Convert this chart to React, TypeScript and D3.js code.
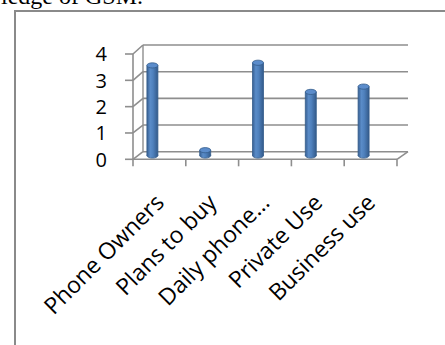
import React from "react";
import * as d3 from "d3";

const categories = ["Phone Owners", "Plans to buy", "Daily phone…", "Private Use", "Business use"];
const values = [3.4, 0.2, 3.5, 2.4, 2.6];
const yTicks = [0, 1, 2, 3, 4];

const W = 445;
const H = 345;

export default function App() {
  // front plane of the 3D plot
  const x = d3.scaleBand<string>().domain(categories).range([133, 397]).padding(0);
  const yFront = d3.scaleLinear().domain([0, 4]).range([159.3, 54]);
  const yBack = d3.scaleLinear().domain([0, 4]).range([151.7, 45]);
  const yMid = d3.scaleLinear().domain([0, 4]).range([155.5, 49.5]);
  const dx = 10;
  const backRight = 408;
  const gridColor = "#8e8e8e";
  const barW = 11;
  const ry = 2.6;
  const barOffset = -7;

  return (
    <svg width={W} height={H} style={{ position: "absolute", left: 0, top: 0, background: "#fff" }}>
      <defs>
        <linearGradient id="cyl" x1="0" x2="1" y1="0" y2="0">
          <stop offset="0" stopColor="#375f92" />
          <stop offset="0.3" stopColor="#5a8cc8" />
          <stop offset="0.55" stopColor="#4f81bd" />
          <stop offset="1" stopColor="#335a8a" />
        </linearGradient>
      </defs>

      {/* page text cut off above */}
      <text x={143} y={4} textAnchor="end" fontFamily="'Liberation Serif', 'Times New Roman', serif" fontSize={24} fill="#000">
        knowledge of GSM.
      </text>

      {/* frame */}
      <line x1={15} x2={15} y1={10} y2={H} stroke="#8a8a8a" strokeWidth={2} />
      <line x1={14} x2={W} y1={11} y2={11} stroke="#8a8a8a" strokeWidth={2} />

      {/* back wall gridlines and side wall diagonals */}
      {yTicks.map((t) => (
        <g key={"g" + t}>
          <line x1={133 + dx} x2={backRight} y1={yBack(t)} y2={yBack(t)} stroke={gridColor} strokeWidth={1.6} />
          <line x1={133} x2={133 + dx} y1={yFront(t)} y2={yBack(t)} stroke={gridColor} strokeWidth={1.6} />
          <line x1={125} x2={133} y1={yFront(t)} y2={yFront(t)} stroke={gridColor} strokeWidth={1.6} />
          <text
            x={107}
            y={yFront(t)}
            dy="0.36em"
            textAnchor="end"
            fontFamily="'Open Sans', sans-serif"
            fontSize={20}
            fill="#000"
          >
            {t}
          </text>
        </g>
      ))}
      {/* back-left vertical edge */}
      <line x1={133 + dx} x2={133 + dx} y1={yBack(4)} y2={yBack(0)} stroke={gridColor} strokeWidth={1.4} />
      {/* front vertical axis */}
      <line x1={133} x2={133} y1={yFront(4)} y2={yFront(0)} stroke={gridColor} strokeWidth={1.6} />
      {/* floor front edge and right edge */}
      <line x1={133} x2={397} y1={yFront(0)} y2={yFront(0)} stroke={gridColor} strokeWidth={1.6} />
      <line x1={397} x2={backRight} y1={yFront(0)} y2={yBack(0)} stroke={gridColor} strokeWidth={1.6} />
      {/* x ticks */}
      {categories.map((c, i) => (
        <line key={"t" + i} x1={x(c)!} x2={x(c)!} y1={yFront(0)} y2={yFront(0) + 7} stroke={gridColor} strokeWidth={1.6} />
      ))}
      <line x1={397} x2={397} y1={yFront(0)} y2={yFront(0) + 7} stroke={gridColor} strokeWidth={1.6} />

      {/* cylinders */}
      {categories.map((c, i) => {
        const cx = x(c)! + x.bandwidth() / 2 + barOffset;
        const yb = yMid(0);
        const yt = yMid(values[i]);
        return (
          <g key={"b" + i}>
            <ellipse cx={cx} cy={yb} rx={barW / 2} ry={ry} fill="url(#cyl)" stroke="#355d8c" strokeWidth={0.8} />
            <rect x={cx - barW / 2} y={yt} width={barW} height={Math.max(0, yb - yt)} fill="url(#cyl)" />
            <line x1={cx - barW / 2} x2={cx - barW / 2} y1={yt} y2={yb} stroke="#355d8c" strokeWidth={0.8} />
            <line x1={cx + barW / 2} x2={cx + barW / 2} y1={yt} y2={yb} stroke="#355d8c" strokeWidth={0.8} />
            <ellipse cx={cx} cy={yt} rx={barW / 2} ry={ry} fill="#5b8ccb" stroke="#355d8c" strokeWidth={0.8} />
          </g>
        );
      })}

      {/* category labels */}
      {categories.map((c, i) => {
        const ax = x(c)! + x.bandwidth() / 2 + 6;
        const ay = 204;
        return (
          <text
            key={"l" + i}
            transform={`translate(${ax},${ay}) rotate(-45)`}
            textAnchor="end"
            fontFamily="'Open Sans', sans-serif"
            fontSize={23}
            fill="#000"
          >
            {c}
          </text>
        );
      })}
    </svg>
  );
}
